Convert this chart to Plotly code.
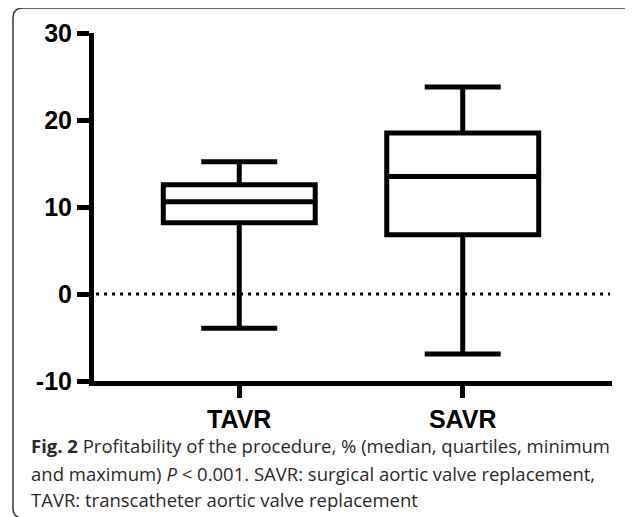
import plotly.graph_objects as go

# ---- data ----
categories = ["TAVR", "SAVR"]
minimum = [-3.95, -6.9]
q1 = [8.2, 6.8]
median = [10.6, 13.5]
q3 = [12.55, 18.5]
maximum = [15.2, 23.8]

y_tickvals = [-10, 0, 10, 20, 30]
y_ticktext = ["-10", "0", "10", "20", "30"]

caption_lines = [
    "<b>Fig. 2</b> Profitability of the procedure, % (median, quartiles, minimum",
    "and maximum) <i>P</i> &lt; 0.001. SAVR: surgical aortic valve replacement,",
    "TAVR: transcatheter aortic valve replacement",
]

# ---- layout geometry (figure pixels; page body adds an 8px offset) ----
OFF = 8
W, H = 625, 509
ML, MR, MT, MB = 86, 21, 25, 136
PW = W - ML - MR
PH = H - MT - MB


def px(x):
    # x given in window pixels
    return (x - OFF - ML) / PW


def py(y):
    return (H - MB - (y - OFF)) / PH


fig = go.Figure()
fig.add_trace(go.Box(
    x=categories,
    q1=q1, median=median, q3=q3,
    lowerfence=minimum, upperfence=maximum,
    width=0.68,
    whiskerwidth=0.5,
    boxpoints=False,
    fillcolor="white",
    line=dict(color="black", width=5),
    showlegend=False,
    hoverinfo="skip",
))

# dotted zero line
fig.add_shape(type="line", xref="paper", yref="y",
              x0=0.004, x1=px(610), y0=0, y1=0,
              line=dict(color="black", width=3, dash="3px,5px"))

# rounded frame
r = 10
x0, x1, y0, y1 = 13, 634, 8, 518
path = (f"M {px(x0)},{py(y0 + r)} "
        f"Q {px(x0)},{py(y0)} {px(x0 + r)},{py(y0)} "
        f"L {px(x1 - r)},{py(y0)} "
        f"Q {px(x1)},{py(y0)} {px(x1)},{py(y0 + r)} "
        f"L {px(x1)},{py(y1 - r)} "
        f"Q {px(x1)},{py(y1)} {px(x1 - r)},{py(y1)} "
        f"L {px(x0 + r)},{py(y1)} "
        f"Q {px(x0)},{py(y1)} {px(x0)},{py(y1 - r)} Z")
fig.add_shape(type="path", xref="paper", yref="paper", path=path,
              line=dict(color="#3a3a3a", width=1.5), layer="below")

# caption
caption_y = [445, 473, 500]
for txt, yy in zip(caption_lines, caption_y):
    fig.add_annotation(text=txt, xref="paper", yref="paper",
                       x=px(29), y=py(yy), xanchor="left", yanchor="middle",
                       showarrow=False,
                       font=dict(family="Open Sans", size=18.5, color="#2a2a2a"))

axis_font = dict(family="Arial, Liberation Sans", size=25, color="black", weight="bold")

fig.update_layout(
    width=W, height=H,
    margin=dict(l=ML, r=MR, t=MT, b=MB),
    paper_bgcolor="white", plot_bgcolor="white",
    xaxis=dict(
        type="category",
        range=[-0.65, 1.668],
        showline=True, linecolor="black", linewidth=5,
        ticks="outside", ticklen=12, tickwidth=5, tickcolor="black",
        showgrid=False, zeroline=False,
        tickfont=axis_font,
    ),
    yaxis=dict(
        range=[-10, 30],
        tickvals=y_tickvals, ticktext=y_ticktext,
        showline=True, linecolor="black", linewidth=5,
        ticks="outside", ticklen=12, tickwidth=5, tickcolor="black",
        showgrid=False, zeroline=False,
        tickfont=axis_font,
    ),
)

fig.write_html("out.html")
